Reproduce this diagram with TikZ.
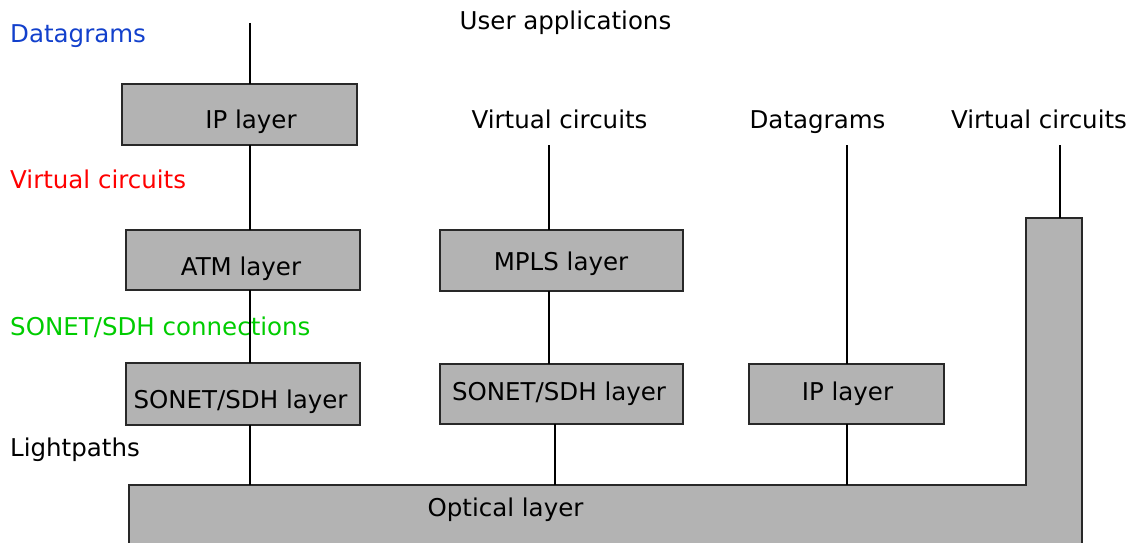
\documentclass[tikz,border=0pt]{standalone}
\usepackage{fontspec}
\setmainfont{DejaVu Sans}
\definecolor{boxgray}{RGB}{179,179,179}
\definecolor{edgegray}{RGB}{40,40,40}
\definecolor{dgblue}{RGB}{18,64,204}
\definecolor{vcred}{RGB}{255,0,0}
\definecolor{sdhgreen}{RGB}{0,204,0}
\begin{document}
\begin{tikzpicture}[x=1pt,y=-1pt,
  every node/.style={font=\fontsize{24.5}{29}\selectfont, inner sep=0pt},
  layerbox/.style={draw=edgegray, line width=1.4pt, fill=boxgray},
  link/.style={line width=1.2pt, black},
  lbl/.style={anchor=base},
  sidelbl/.style={anchor=base west}]
\useasboundingbox (0,0) rectangle (1138,543);
\clip (0,0) rectangle (1138,543);

% optical layer: an L-shaped slab along the bottom and right
\draw[layerbox] (129,485) -- (1026,485) -- (1026,218) -- (1082,218)
  -- (1082,560) -- (129,560) -- cycle;
\node[lbl] (optical) at (505.5,516) {Optical layer};
\coordinate (optTop) at (0,485);
\coordinate (optRight) at (0,218);

% column x positions of the vertical links
\coordinate (c1) at (250,0);
\coordinate (c2) at (549,0);
\coordinate (c2b) at (555,0);
\coordinate (c3) at (847,0);
\coordinate (c4) at (1060,0);

% layer boxes
\path[layerbox] (122,84) rectangle (357,145);
\coordinate (ip1n) at (0,84); \coordinate (ip1s) at (0,145);
\path[layerbox] (126,230) rectangle (360,290);
\coordinate (atmn) at (0,230); \coordinate (atms) at (0,290);
\path[layerbox] (126,363) rectangle (360,425);
\coordinate (son1n) at (0,363); \coordinate (son1s) at (0,425);
\path[layerbox] (440,230) rectangle (683,291);
\coordinate (mplsn) at (0,230); \coordinate (mplss) at (0,291);
\path[layerbox] (440,364) rectangle (683,424);
\coordinate (son2n) at (0,364); \coordinate (son2s) at (0,424);
\path[layerbox] (749,364) rectangle (944,424);
\coordinate (ip2n) at (0,364); \coordinate (ip2s) at (0,424);

\node[lbl] (ip1) at (251,128) {IP layer};
\node[lbl] (atm) at (241,275) {ATM layer};
\node[lbl] (son1) at (240.5,408) {SONET/SDH layer};
\node[lbl] (mpls) at (561,270) {MPLS layer};
\node[lbl] (son2) at (559,400) {SONET/SDH layer};
\node[lbl] (ip2) at (847.5,400) {IP layer};

% service labels
\node[lbl] (user) at (565.5,30) {User applications};
\node[lbl] (vc2) at (559.5,128) {Virtual circuits};
\node[lbl] (dg3) at (817.5,128) {Datagrams};
\node[lbl] (vc4) at (1039,128) {Virtual circuits};
\coordinate (top1) at (0,23);
\coordinate (top2) at (0,145);

% side labels
\node[sidelbl, text=dgblue] (sdg) at (10,43) {Datagrams};
\node[sidelbl, text=vcred] (svc) at (10,188) {Virtual circuits};
\node[sidelbl, text=sdhgreen] (ssdh) at (10,335) {SONET/SDH connections};
\node[sidelbl] (slp) at (10,456) {Lightpaths};

% first column: IP over ATM over SONET/SDH
\draw[link] (c1 |- top1) -- (c1 |- ip1n);
\draw[link] (c1 |- ip1s) -- (c1 |- atmn);
\draw[link] (c1 |- atms) -- (c1 |- son1n);
\draw[link] (c1 |- son1s) -- (c1 |- optTop);

% second column: MPLS over SONET/SDH
\draw[link] (c2 |- top2) -- (c2 |- mplsn);
\draw[link] (c2 |- mplss) -- (c2 |- son2n);
\draw[link] (c2b |- son2s) -- (c2b |- optTop);

% third column: IP directly over optical
\draw[link] (c3 |- top2) -- (c3 |- ip2n);
\draw[link] (c3 |- ip2s) -- (c3 |- optTop);

% fourth column: circuits straight on the optical layer
\draw[link] (c4 |- top2) -- (c4 |- optRight);
\end{tikzpicture}
\end{document}
